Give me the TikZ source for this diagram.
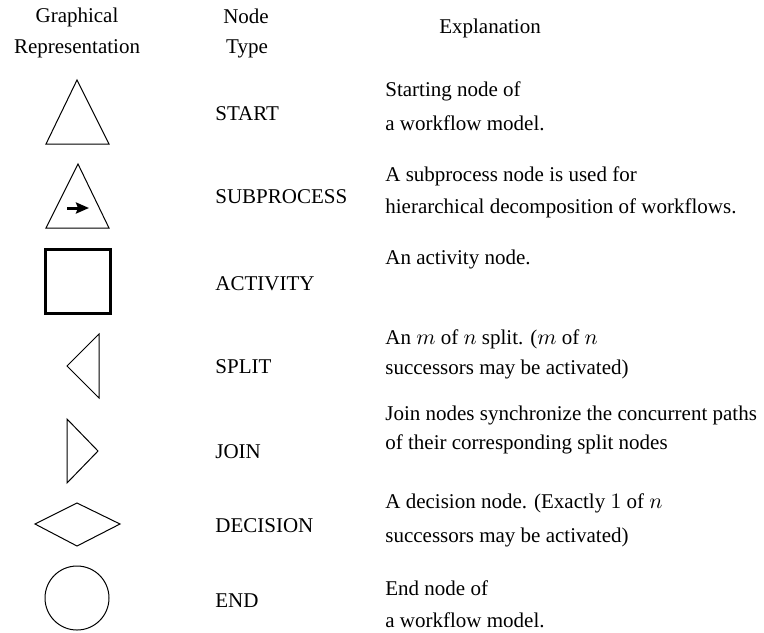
\documentclass[tikz,border=0pt]{standalone}
\usepackage{fontspec}
\setmainfont{Liberation Serif}
\usepackage{amsmath}
\usetikzlibrary{arrows.meta}

\begin{document}
\begin{tikzpicture}[x=0.5pt, y=-0.5pt,
    fino/.style={line width=0.5pt},
    grueso/.style={line width=1.5pt},
    texto/.style={anchor=base west, inner sep=0pt, font=\fontsize{10.5}{12}\selectfont},
    titulo/.style={anchor=base, inner sep=0pt, font=\fontsize{10.5}{12}\selectfont}]
    \useasboundingbox (0,0) rectangle (764,632);
    % Encabezado
    \node[titulo] (graf) at (77,22) {Graphical};
    \node[titulo] (repr) at (77,53) {Representation};
    \node[titulo] (nodo) at (246,23) {Node};
    \node[titulo] (tipo) at (247,53) {Type};
    \node[titulo] (expl) at (490,33) {Explanation};
    % Figuras
    \draw[fino] (77,80) -- (109,144) -- (46,144) -- cycle;
    \draw[fino] (78,164) -- (109,228) -- (46,228) -- cycle;
    \draw[line width=1.5pt, -{Stealth[length=6.5pt, width=5.5pt, inset=1pt]}] (67,208) -- (89,208);
    \draw[grueso] (45,249) rectangle (110,313);
    \draw[fino] (99,334) -- (67,366) -- (99,398) -- cycle;
    \draw[fino] (67,419) -- (98,451) -- (67,483) -- cycle;
    \draw[fino] (35,524) -- (77,503) -- (120,524) -- (77,546) -- cycle;
    \draw[fino] (77,598) circle (32);
    % Tipos
    \foreach \y/\nombre/\tipo in {120/start/START, 203/sub/SUBPROCESS, 290/act/ACTIVITY,
        373/split/SPLIT, 458/join/JOIN, 532/dec/DECISION, 607/end/END} {
        \node[texto] (t\nombre) at (215,\y) {\tipo};
    }
    % Explicaciones
    \node[texto] (e1a) at (385,96) {Starting node of};
    \node[texto] (e1b) at (385,130) {a workflow model.};
    \node[texto] (e2a) at (385,181) {A subprocess node is used for};
    \node[texto] (e2b) at (385,213) {hierarchical decomposition of workflows.};
    \node[texto] (e3a) at (385,264) {An activity node.};
    \node[texto] (e4a) at (385,344) {An $m$ of $n$ split. ($m$ of $n$};
    \node[texto] (e4b) at (385,374) {successors may be activated)};
    \node[texto] (e5a) at (385,420) {Join nodes synchronize the concurrent paths};
    \node[texto] (e5b) at (385,449) {of their corresponding split nodes};
    \node[texto] (e6a) at (385,508) {A decision node. (Exactly $1$ of $n$};
    \node[texto] (e6b) at (385,542) {successors may be activated)};
    \node[texto] (e7a) at (385,595) {End node of};
    \node[texto] (e7b) at (385,627) {a workflow model.};
\end{tikzpicture}
\end{document}
